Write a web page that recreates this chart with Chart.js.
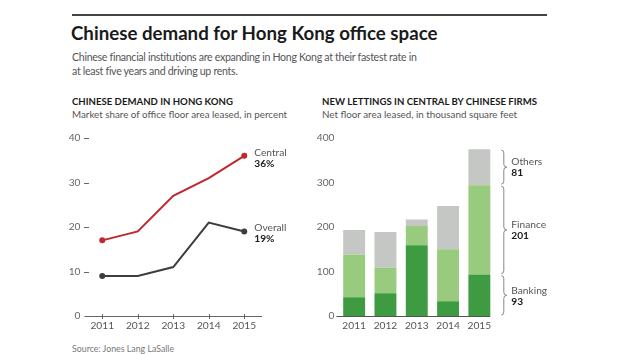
<!DOCTYPE html>
<html>
<head>
<meta charset="utf-8">
<script src="https://cdn.jsdelivr.net/npm/chart.js@4.4.1/dist/chart.umd.min.js"></script>
<style>
  html, body { margin: 0; padding: 0; background: #fff; }
  body { width: 620px; height: 355px; position: relative; overflow: hidden; font-family: Lato, "Open Sans", sans-serif; }
  .abs { position: absolute; white-space: nowrap; }
  #rule { left: 72px; top: 14px; width: 475px; height: 2px; background: #444; }
  #title { left: 71px; top: 21px; font-size: 18.7px; font-weight: 700; color: #1a1a1a; line-height: 24px; }
  #sub { left: 72px; top: 50px; font-size: 10.6px; letter-spacing: -0.3px; color: #555; line-height: 14px; }
  .ptitle { top: 95px; font-size: 9.6px; font-weight: 700; color: #1a1a1a; line-height: 13px; }
  .psub { top: 108px; font-size: 9.8px; color: #555; line-height: 13px; }
  #source { left: 72px; top: 343px; font-size: 8.8px; color: #777; line-height: 12px; }
  canvas { position: absolute; }
</style>
</head>
<body>
<div class="abs" id="rule"></div>
<div class="abs" id="title">Chinese demand for Hong Kong office space</div>
<div class="abs" id="sub">Chinese financial institutions are expanding in Hong Kong at their fastest rate in<br>at least five years and driving up rents.</div>
<div class="abs ptitle" style="left:72px">CHINESE DEMAND IN HONG KONG</div>
<div class="abs psub" style="left:72px">Market share of office floor area leased, in percent</div>
<div class="abs ptitle" style="left:322px">NEW LETTINGS IN CENTRAL BY CHINESE FIRMS</div>
<div class="abs psub" style="left:322px">Net floor area leased, in thousand square feet</div>
<div class="abs" id="source">Source: Jones Lang LaSalle</div>

<canvas id="left" width="250" height="250" style="left:60px; top:90px; width:250px; height:250px"></canvas>
<canvas id="right" width="250" height="250" style="left:310px; top:90px; width:250px; height:250px"></canvas>

<script>
const years = ['2011', '2012', '2013', '2014', '2015'];
const centralShare = [17, 19, 27, 31, 36];
const overallShare = [9, 9, 11, 21, 19];
const leftTicks = [0, 10, 20, 30, 40];

const banking = [42, 51, 159, 33, 93];
const finance = [96, 58, 43, 117, 201];
const others = [55, 80, 15, 97, 81];
const rightTicks = [0, 100, 200, 300, 400];

const FONT = 'Lato, "Open Sans", sans-serif';
Chart.defaults.font.family = FONT;
Chart.defaults.animation = false;

const RED = '#c1272d';
const DARK = '#3d3d3d';
const C_BANK = '#3e9b41';
const C_FIN = '#98cb7e';
const C_OTH = '#c4c7c4';

// Left chart plugin: axis line, tick marks, end labels
const leftPlugin = {
  id: 'leftDeco',
  afterDraw(chart) {
    const ctx = chart.ctx, ca = chart.chartArea;
    const x = chart.scales.x, y = chart.scales.y;
    ctx.save();
    ctx.strokeStyle = '#666';
    ctx.lineWidth = 1;
    leftTicks.forEach(v => {
      if (v === 0) return;
      const py = Math.round(y.getPixelForValue(v)) + 0.5;
      ctx.beginPath(); ctx.moveTo(ca.left - 0.5, py); ctx.lineTo(ca.left + 4.5, py); ctx.stroke();
    });
    const by = Math.round(y.getPixelForValue(0)) + 0.5;
    ctx.beginPath(); ctx.moveTo(ca.left, by); ctx.lineTo(ca.right, by); ctx.stroke();
    years.forEach((c, i) => {
      const px = Math.round(x.getPixelForValue(i)) + 0.5;
      ctx.beginPath(); ctx.moveTo(px, by - 2.5); ctx.lineTo(px, by + 2.5); ctx.stroke();
    });
    const last = years.length - 1;
    const lx = x.getPixelForValue(last) + 10;
    const items = [
      {name: 'Central', val: centralShare[last]},
      {name: 'Overall', val: overallShare[last]}
    ];
    ctx.textAlign = 'left';
    ctx.textBaseline = 'middle';
    items.forEach(it => {
      const py = y.getPixelForValue(it.val);
      ctx.fillStyle = '#555';
      ctx.font = '10.2px ' + FONT;
      ctx.fillText(it.name, lx, py - 3.5);
      ctx.fillStyle = '#1a1a1a';
      ctx.font = 'bold 10.2px ' + FONT;
      ctx.fillText(it.val + '%', lx, py + 7.5);
    });
    ctx.restore();
  }
};

new Chart(document.getElementById('left'), {
  type: 'line',
  data: {
    labels: years,
    datasets: [
      { data: centralShare, borderColor: RED, backgroundColor: RED, borderWidth: 2,
        pointRadius: [3, 0, 0, 0, 3], pointBorderWidth: 0, tension: 0 },
      { data: overallShare, borderColor: DARK, backgroundColor: DARK, borderWidth: 2,
        pointRadius: [3, 0, 0, 0, 3], pointBorderWidth: 0, tension: 0 }
    ]
  },
  options: {
    responsive: false,
    layout: { padding: { left: 0, right: 48, top: 48, bottom: 0 } },
    plugins: { legend: { display: false }, tooltip: { enabled: false } },
    scales: {
      x: {
        offset: true,
        grid: { display: false, drawTicks: false },
        border: { display: false },
        ticks: { color: '#555', font: { size: 10.2 }, padding: 4, maxRotation: 0 },
        afterFit(s) { s.height = 24; }
      },
      y: {
        min: 0, max: 40,
        afterBuildTicks(s) { s.ticks = leftTicks.map(v => ({ value: v })); },
        grid: { display: false, drawTicks: false },
        border: { display: false },
        ticks: { color: '#666', font: { size: 10.2 }, padding: 4 },
        afterFit(s) { s.width = 24.5; }
      }
    }
  },
  plugins: [leftPlugin]
});

function brace(ctx, x0, y1, y2) {
  const xm = x0 + 2.5, xt = x0 + 5.5, r = 3;
  const mid = (y1 + y2) / 2;
  ctx.beginPath();
  ctx.moveTo(x0, y1);
  ctx.quadraticCurveTo(xm, y1, xm, y1 + r);
  ctx.lineTo(xm, mid - r);
  ctx.quadraticCurveTo(xm, mid, xt, mid);
  ctx.quadraticCurveTo(xm, mid, xm, mid + r);
  ctx.lineTo(xm, y2 - r);
  ctx.quadraticCurveTo(xm, y2, x0, y2);
  ctx.stroke();
}

const rightPlugin = {
  id: 'rightDeco',
  afterDraw(chart) {
    const ctx = chart.ctx, ca = chart.chartArea;
    const y = chart.scales.y;
    const last = years.length - 1;
    const bar = chart.getDatasetMeta(0).data[last];
    const barRight = bar.x + bar.width / 2;
    ctx.save();
    const by = Math.round(y.getPixelForValue(0)) + 0.5;
    ctx.strokeStyle = '#555';
    ctx.lineWidth = 1;
    ctx.beginPath(); ctx.moveTo(ca.left - 2, by); ctx.lineTo(barRight, by); ctx.stroke();
    const segs = [
      { name: 'Banking', lo: 0, hi: banking[last], val: banking[last] },
      { name: 'Finance', lo: banking[last], hi: banking[last] + finance[last], val: finance[last] },
      { name: 'Others', lo: banking[last] + finance[last], hi: banking[last] + finance[last] + others[last], val: others[last] }
    ];
    const bx = barRight + 11;
    const lx = barRight + 21;
    ctx.strokeStyle = '#888';
    ctx.lineWidth = 1;
    segs.forEach(s => {
      const yTop = y.getPixelForValue(s.hi) + 1;
      const yBot = y.getPixelForValue(s.lo) - 1;
      brace(ctx, bx, yTop, yBot);
      const mid = (yTop + yBot) / 2;
      ctx.textAlign = 'left';
      ctx.textBaseline = 'middle';
      ctx.fillStyle = '#555';
      ctx.font = '10.2px ' + FONT;
      ctx.fillText(s.name, lx, mid - 5);
      ctx.fillStyle = '#1a1a1a';
      ctx.font = 'bold 10.2px ' + FONT;
      ctx.fillText(String(s.val), lx, mid + 6);
    });
    ctx.restore();
  }
};

new Chart(document.getElementById('right'), {
  type: 'bar',
  data: {
    labels: years,
    datasets: [
      { label: 'Banking', data: banking, backgroundColor: C_BANK, borderWidth: 0 },
      { label: 'Finance', data: finance, backgroundColor: C_FIN, borderWidth: 0 },
      { label: 'Others', data: others, backgroundColor: C_OTH, borderWidth: 0 }
    ]
  },
  options: {
    responsive: false,
    layout: { padding: { left: 0, right: 65, top: 48, bottom: 0 } },
    plugins: { legend: { display: false }, tooltip: { enabled: false } },
    datasets: { bar: { categoryPercentage: 1, barPercentage: 0.7 } },
    scales: {
      x: {
        stacked: true,
        grid: { display: false, drawTicks: false },
        border: { display: false },
        ticks: { color: '#555', font: { size: 10.2 }, padding: 4, maxRotation: 0 },
        afterFit(s) { s.height = 24; }
      },
      y: {
        stacked: true,
        min: 0, max: 400,
        afterBuildTicks(s) { s.ticks = rightTicks.map(v => ({ value: v })); },
        grid: { display: false, drawTicks: false },
        border: { display: false },
        ticks: { color: '#666', font: { size: 10.2 }, padding: 4 },
        afterFit(s) { s.width = 28.5; }
      }
    }
  },
  plugins: [rightPlugin]
});
</script>
</body>
</html>
